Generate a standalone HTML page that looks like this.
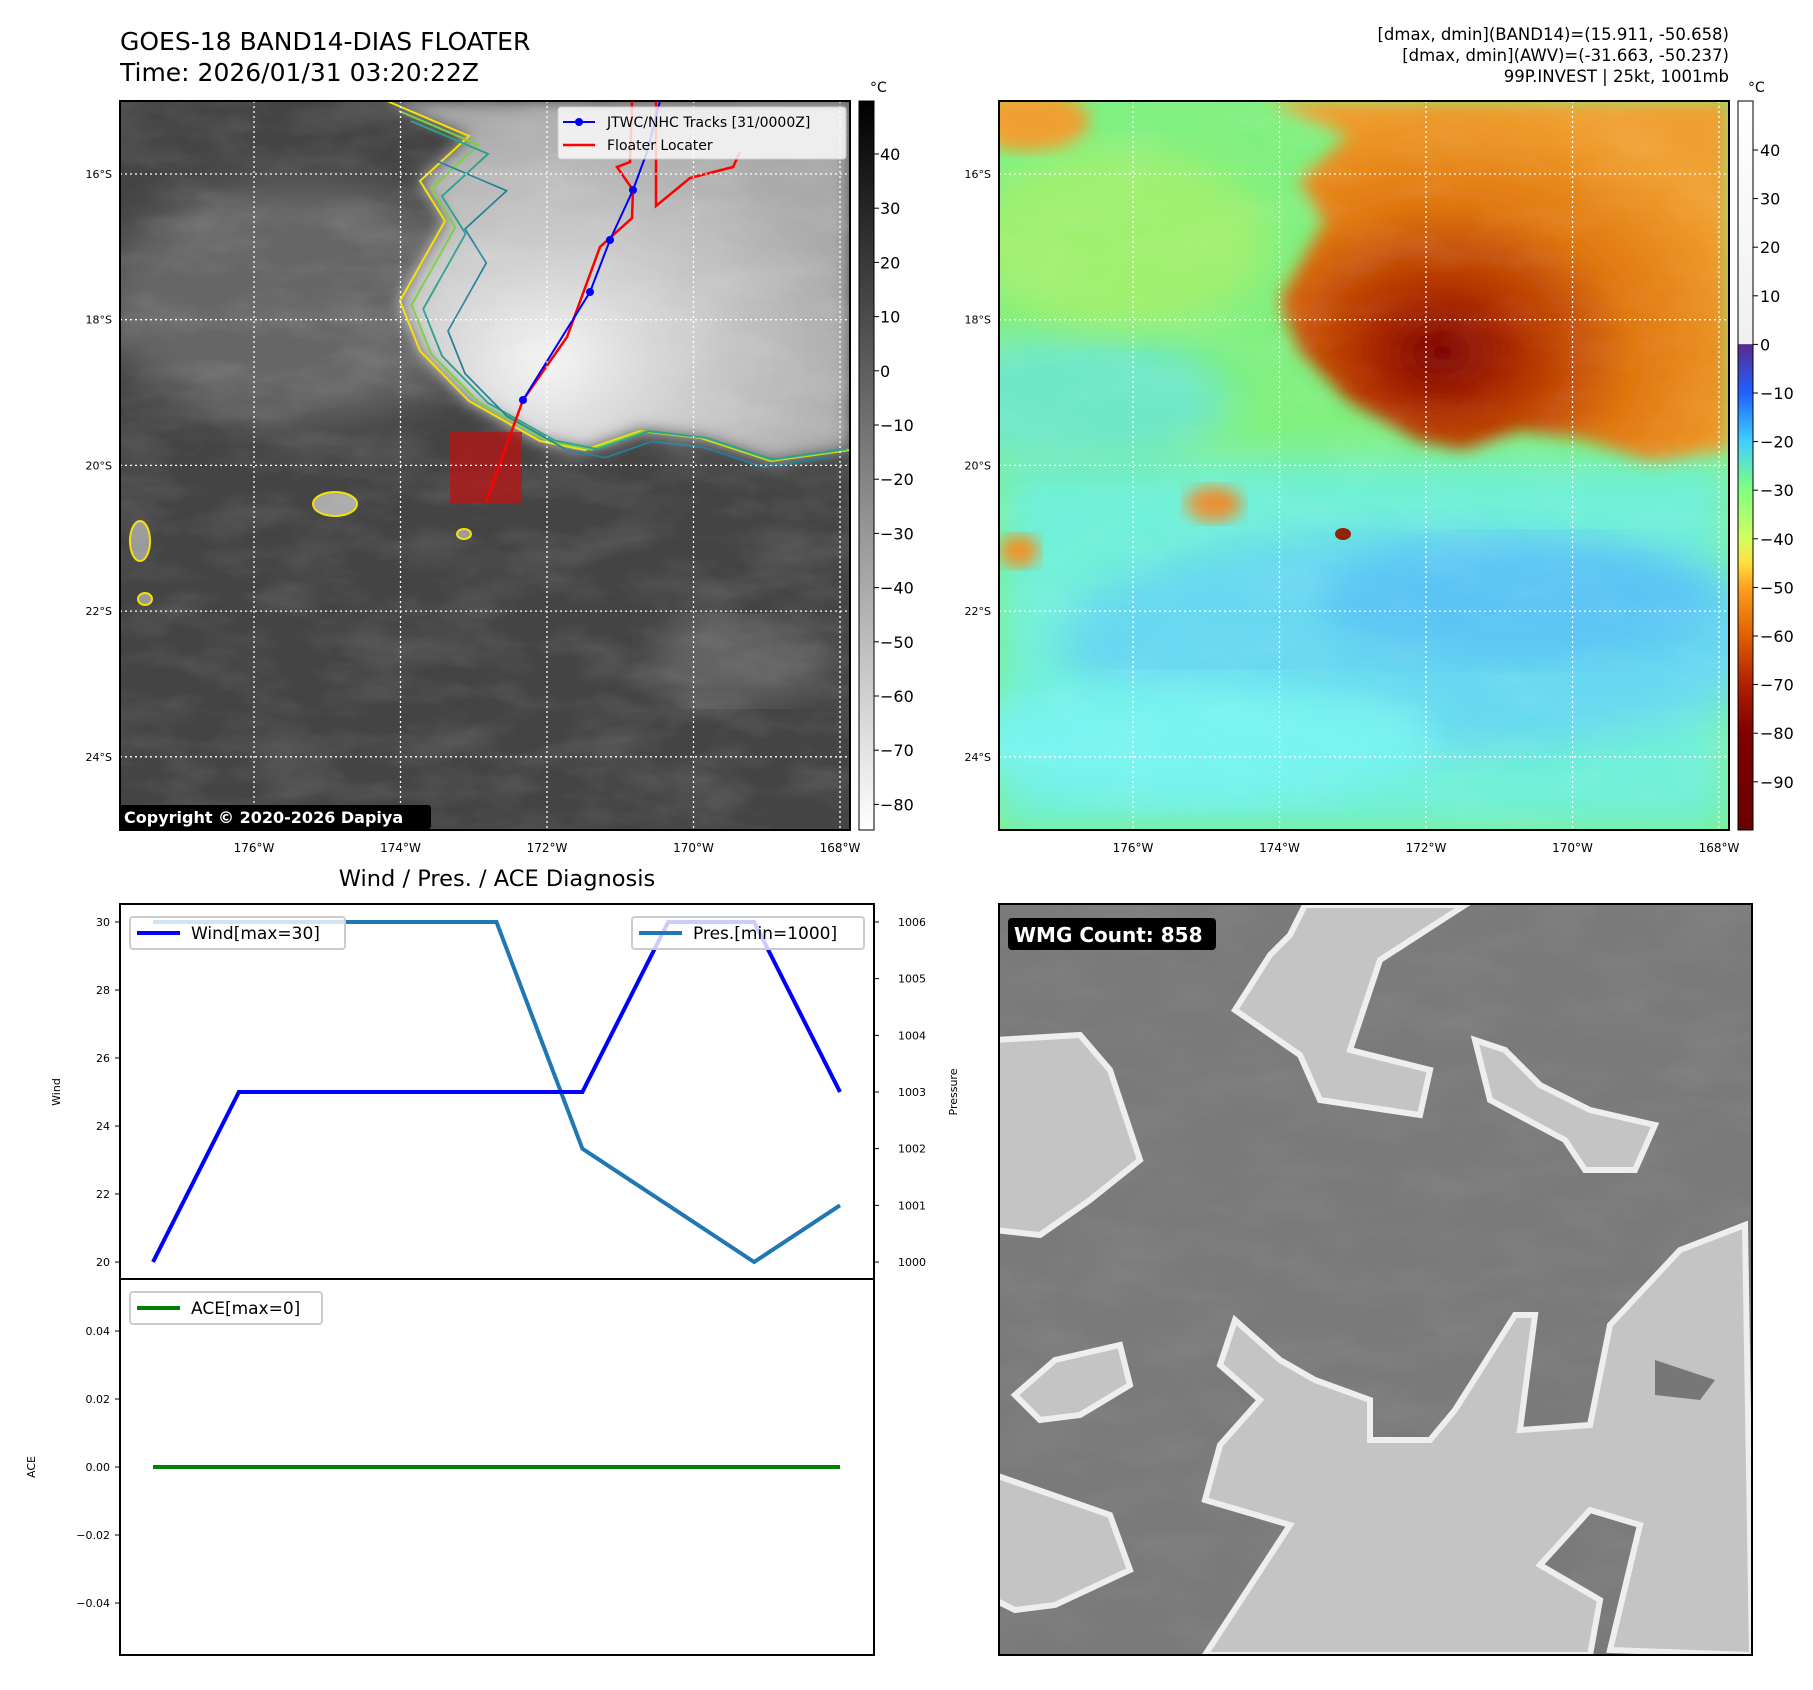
<!DOCTYPE html>
<html><head><meta charset="utf-8">
<style>
html,body{margin:0;padding:0;background:#fff;}
svg{display:block;font-family:"DejaVu Sans","Liberation Sans",sans-serif;}
</style></head>
<body>
<svg id="fig" width="1813" height="1690" viewBox="0 0 1813 1690" xmlns="http://www.w3.org/2000/svg">
<defs>
  <filter id="noise" x="0" y="0" width="100%" height="100%">
    <feTurbulence type="fractalNoise" baseFrequency="0.012 0.03" numOctaves="4" seed="3" result="n"/>
    <feColorMatrix type="matrix" values="0 0 0 0 1  0 0 0 0 1  0 0 0 0 1  0.9 0 0 0 -0.35" />
  </filter>
  <filter id="blur8"><feGaussianBlur stdDeviation="8"/></filter>
  <filter id="blur20"><feGaussianBlur stdDeviation="20"/></filter>
  <linearGradient id="cbGray" x1="0" y1="0" x2="0" y2="1">
    <stop offset="0" stop-color="#000"/><stop offset="1" stop-color="#fff"/>
  </linearGradient>
  <linearGradient id="cbColor" x1="0" y1="0" x2="0" y2="1">
    <stop offset="0" stop-color="#ffffff"/>
    <stop offset="0.333" stop-color="#f0f0f0"/>
    <stop offset="0.334" stop-color="#5a2a90"/>
    <stop offset="0.40" stop-color="#2060ff"/>
    <stop offset="0.467" stop-color="#40d0ff"/>
    <stop offset="0.533" stop-color="#80ff80"/>
    <stop offset="0.60" stop-color="#d0ff60"/>
    <stop offset="0.633" stop-color="#ffe040"/>
    <stop offset="0.667" stop-color="#ffa020"/>
    <stop offset="0.733" stop-color="#e06000"/>
    <stop offset="0.80" stop-color="#b02000"/>
    <stop offset="0.867" stop-color="#800000"/>
    <stop offset="1" stop-color="#6a0000"/>
  </linearGradient>
  <radialGradient id="cloudGray" cx="0.35" cy="0.72" r="0.7">
    <stop offset="0" stop-color="#f4f4f4"/><stop offset="0.5" stop-color="#c8c8c8"/><stop offset="1" stop-color="#a8a8a8"/>
  </radialGradient>
  <radialGradient id="cloudColor" cx="0.38" cy="0.7" r="0.7">
    <stop offset="0" stop-color="#7a0000"/><stop offset="0.25" stop-color="#b03000"/><stop offset="0.6" stop-color="#e07810"/><stop offset="1" stop-color="#f0a030"/>
  </radialGradient>
  <path id="cloudShape" d="M267,0 L349,35 L300,80 L325,120 L280,200 L300,250 L349,300 L420,340 L465,349 L520,330 L581,337 L651,360 L730,349 L730,0 Z"/>
  <path id="cloudEdge" d="M267,0 L349,35 L300,80 L325,120 L280,200 L300,250 L349,300 L420,340 L465,349 L520,330 L581,337 L651,360 L730,349"/>
  <clipPath id="clipL"><rect x="120" y="101" width="730" height="729"/></clipPath>
  <clipPath id="clipR"><rect x="999" y="101" width="730" height="729"/></clipPath>
  <clipPath id="clipW"><rect x="999" y="904" width="753" height="751"/></clipPath>
</defs>

<!-- Titles -->
<text x="120" y="50" font-size="25">GOES-18 BAND14-DIAS FLOATER</text>
<text x="120" y="81" font-size="25">Time: 2026/01/31 03:20:22Z</text>
<text x="1729" y="40" font-size="16.5" text-anchor="end">[dmax, dmin](BAND14)=(15.911, -50.658)</text>
<text x="1729" y="61" font-size="16.5" text-anchor="end">[dmax, dmin](AWV)=(-31.663, -50.237)</text>
<text x="1729" y="82" font-size="16.5" text-anchor="end">99P.INVEST | 25kt, 1001mb</text>

<!-- LEFT MAP -->
<g clip-path="url(#clipL)">
  <rect x="120" y="101" width="730" height="729" fill="#444"/>
  <g transform="translate(120,101)">
    <ellipse cx="180" cy="200" rx="200" ry="120" fill="#666" filter="url(#blur20)"/>
    <ellipse cx="620" cy="560" rx="90" ry="40" fill="#666" filter="url(#blur20)"/>
    <use href="#cloudShape" fill="url(#cloudGray)" filter="url(#blur8)"/>
    <use href="#cloudEdge" fill="none" stroke="#f5e000" stroke-width="2"/>
    <use href="#cloudEdge" fill="none" stroke="#7ad040" stroke-width="2" transform="translate(20,10) scale(0.97)"/>
    <use href="#cloudEdge" fill="none" stroke="#2aa08a" stroke-width="2" transform="translate(40,20) scale(0.94)"/>
    <use href="#cloudEdge" fill="none" stroke="#1f7f9a" stroke-width="2" transform="translate(90,60) scale(0.85)"/>
    <ellipse cx="215" cy="403" rx="22" ry="12" fill="#aaa" stroke="#f5e000" stroke-width="2"/>
    <ellipse cx="20" cy="440" rx="10" ry="20" fill="#999" stroke="#f5e000" stroke-width="2"/>
    <ellipse cx="25" cy="498" rx="7" ry="6" fill="#999" stroke="#f5e000" stroke-width="2"/>
    <ellipse cx="344" cy="433" rx="7" ry="5" fill="#999" stroke="#f5e000" stroke-width="2"/>
  </g>
  <rect x="120" y="101" width="730" height="729" filter="url(#noise)" opacity="0.25"/>
  <rect x="450" y="432" width="72" height="71" fill="#c01010" opacity="0.7"/>
  <polyline points="486,502 523,400 567,337 600,247 632,218 633,190 617,167 630,162 632,101" fill="none" stroke="#f00" stroke-width="2.5"/>
  <polyline points="656,101 656,206 690,178 733,167 740,152" fill="none" stroke="#f00" stroke-width="2.5"/>
  <polyline points="523,400 590,292 610,240 633,190 647,152 660,101" fill="none" stroke="#00f" stroke-width="2"/>
  <g fill="#00f"><circle cx="523" cy="400" r="4"/><circle cx="590" cy="292" r="4"/><circle cx="610" cy="240" r="4"/><circle cx="633" cy="190" r="4"/></g>
  <g id="gridL" stroke="#fff" stroke-width="1.3" stroke-dasharray="2,3"></g>
  <rect x="120" y="805" width="311" height="24" rx="3" fill="#000"/>
  <text x="124" y="823" font-size="16" font-weight="bold" fill="#fff">Copyright © 2020-2026 Dapiya</text>
</g>
<rect x="120" y="101" width="730" height="729" fill="none" stroke="#000" stroke-width="2"/>
<g>
  <rect x="558" y="107" width="288" height="52" rx="3" fill="#fff" fill-opacity="0.8" stroke="#ccc"/>
  <line x1="563" y1="122" x2="595" y2="122" stroke="#00f" stroke-width="2"/><circle cx="579" cy="122" r="4" fill="#00f"/>
  <text x="607" y="127" font-size="14">JTWC/NHC Tracks [31/0000Z]</text>
  <line x1="563" y1="145" x2="595" y2="145" stroke="#f00" stroke-width="2.5"/>
  <text x="607" y="150" font-size="14">Floater Locater</text>
</g>
<!-- left colorbar -->
<rect x="859" y="101" width="15" height="729" fill="url(#cbGray)" stroke="#000"/>
<text x="870" y="92" font-size="14">°C</text>
<g id="cbTicksL" font-size="16"></g>

<!-- RIGHT MAP -->
<g clip-path="url(#clipR)">
  <rect x="999" y="101" width="730" height="729" fill="#80f080"/>
  <g transform="translate(999,101)">
    <rect x="0" y="360" width="730" height="370" fill="#70f0d8" filter="url(#blur20)"/>
    <ellipse cx="420" cy="540" rx="360" ry="110" fill="#68d8f0" filter="url(#blur20)"/>
    <ellipse cx="520" cy="500" rx="200" ry="60" fill="#5cc4f4" filter="url(#blur20)"/>
    <ellipse cx="200" cy="640" rx="240" ry="60" fill="#78f4f0" filter="url(#blur20)"/>
    <ellipse cx="80" cy="300" rx="150" ry="70" fill="#70e8c8" filter="url(#blur20)"/>
    <ellipse cx="120" cy="140" rx="150" ry="90" fill="#a0f070" filter="url(#blur20)"/>
    <ellipse cx="30" cy="20" rx="60" ry="30" fill="#f0a030" filter="url(#blur8)"/>
    <use href="#cloudShape" fill="url(#cloudColor)" filter="url(#blur8)"/>
    <ellipse cx="215" cy="403" rx="28" ry="18" fill="#e89030" filter="url(#blur8)"/>
    <ellipse cx="20" cy="450" rx="20" ry="16" fill="#f09020" filter="url(#blur8)"/>
    <ellipse cx="344" cy="433" rx="8" ry="6" fill="#902000"/>
  </g>
  <rect x="999" y="101" width="730" height="729" filter="url(#noise)" opacity="0.15"/>
  <g id="gridR" stroke="#fff" stroke-width="1.3" stroke-dasharray="2,3"></g>
</g>
<rect x="999" y="101" width="730" height="729" fill="none" stroke="#000" stroke-width="2"/>
<rect x="1738" y="101" width="15" height="729" fill="url(#cbColor)" stroke="#000"/>
<text x="1748" y="92" font-size="14">°C</text>
<g id="cbTicksR" font-size="16"></g>
<g id="mapLabels" font-size="12"></g>

<!-- DIAGNOSIS -->
<text x="497" y="886" font-size="22.5" text-anchor="middle">Wind / Pres. / ACE Diagnosis</text>
<g id="diag"></g>

<!-- WMG panel -->
<g clip-path="url(#clipW)">
  <rect x="999" y="904" width="753" height="751" fill="#7a7a7a"/>
  <rect x="999" y="904" width="753" height="751" filter="url(#noise)" opacity="0.12"/>
  <g fill="#c4c4c4" stroke="#eee" stroke-width="6" stroke-linejoin="miter">
    <polygon points="995,1040 1080,1035 1110,1070 1140,1160 1090,1200 1040,1235 995,1230"/>
    <polygon points="1305,905 1465,905 1380,960 1350,1050 1430,1070 1420,1115 1320,1100 1300,1055 1235,1010 1270,955 1290,935"/>
    <polygon points="1475,1040 1505,1050 1540,1085 1590,1110 1655,1125 1635,1170 1585,1170 1565,1140 1490,1100"/>
    <polygon points="1205,1655 1290,1525 1205,1500 1220,1445 1260,1400 1220,1365 1235,1320 1280,1360 1315,1380 1370,1400 1370,1440 1430,1440 1455,1410 1515,1315 1535,1315 1520,1430 1590,1425 1610,1325 1680,1250 1745,1225 1752,1655 1610,1650 1640,1525 1590,1510 1540,1565 1600,1600 1590,1655"/>
    <polygon points="995,1475 1110,1515 1130,1570 1055,1605 1015,1610 995,1600"/>
    <polygon points="1055,1360 1120,1345 1130,1385 1080,1415 1040,1420 1015,1395"/>
  </g>
  <polygon points="1655,1360 1715,1380 1700,1400 1655,1395" fill="#777"/>
  <rect x="1008" y="918" width="208" height="32" rx="4" fill="#000"/>
  <text x="1014" y="942" font-size="20" font-weight="bold" fill="#fff">WMG Count: 858</text>
</g>
<rect x="999" y="904" width="753" height="751" fill="none" stroke="#000" stroke-width="2"/>

<script>
const NS='http://www.w3.org/2000/svg';
function mk(tag,attrs,parent,txt){const e=document.createElementNS(NS,tag);for(const k in attrs)e.setAttribute(k,attrs[k]);if(txt!==undefined)e.textContent=txt;parent.appendChild(e);return e;}

// map grids
const lonTicks=[176,174,172,170,168];
const latTicks=[16,18,20,22,24];
function lonX(lon,off){return off+254+(176-lon)/2*146.5;}
function latY(lat){return 174+(lat-16)/2*145.7;}
const gl=document.getElementById('gridL'),gr=document.getElementById('gridR'),ml=document.getElementById('mapLabels');
[[gl,0],[gr,879]].forEach(([g,off])=>{
  lonTicks.forEach(l=>{const x=lonX(l,off);const ln=mk('line',{x1:x,y1:101,x2:x,y2:830},g);
    
    
    const t=mk('text',{x:x,y:852,'text-anchor':'middle'},ml,l+'°W');
    
    });
  latTicks.forEach(l=>{const y=latY(l);const ln=mk('line',{x1:120+off,y1:y,x2:850+off,y2:y},g);
    
    
    const t=mk('text',{x:112+off,y:y+4,'text-anchor':'end','font-size':11},ml,l+'°S');
    
    });
});
// colorbars
const cbLTicks=[40,30,20,10,0,-10,-20,-30,-40,-50,-60,-70,-80];
const cbRTicks=[40,30,20,10,0,-10,-20,-30,-40,-50,-60,-70,-80,-90];
const cl=document.getElementById('cbTicksL'),cr=document.getElementById('cbTicksR');
cbLTicks.forEach(v=>{const y=154+(40-v)/10*54.2;mk('line',{x1:874,y1:y,x2:879,y2:y,stroke:'#000'},cl);
  const t=mk('text',{x:880,y:y+6},cl,(v<0?'\u2212'+(-v):v));
  
  });
cbRTicks.forEach(v=>{const y=150+(40-v)/10*48.6;mk('line',{x1:1753,y1:y,x2:1758,y2:y,stroke:'#000'},cr);
  const t=mk('text',{x:1760,y:y+6},cr,(v<0?'\u2212'+(-v):v));
  
  });

// Diagnosis chart data
const windValues=[20,25,25,25,25,25,30,30,25];
const presValues=[1006,1006,1006,1006,1006,1002,1001,1000,1001];
const aceValues=[0,0,0,0,0,0,0,0,0];
const windTicks=[20,22,24,26,28,30];
const presTicks=[1000,1001,1002,1003,1004,1005,1006];
const aceTicks=[-0.04,-0.02,0,0.02,0.04];

const d=document.getElementById('diag');
const AX={l:120,r:874,t:904,m:1279,b:1655};
const xS=i=>153+i*(840-153)/(windValues.length-1);
const wY=v=>922+(30-v)/10*(1262-922);
const pY=v=>922+(1006-v)/6*(1262-922);
const aY=v=>1467-v/0.04*(1467-1331);
mk('rect',{x:AX.l,y:AX.t,width:AX.r-AX.l,height:AX.b-AX.t,fill:'#fff',stroke:'#000','stroke-width':2},d);
mk('line',{x1:AX.l,y1:AX.m,x2:AX.r,y2:AX.m,stroke:'#000','stroke-width':2},d);
windTicks.forEach(v=>{const y=wY(v);mk('line',{x1:AX.l-5,y1:y,x2:AX.l,y2:y,stroke:'#000'},d);
  const t=mk('text',{x:AX.l-10,y:y+4,'text-anchor':'end','font-size':11},d,v);
  
  });
presTicks.forEach(v=>{const y=pY(v);mk('line',{x1:AX.r,y1:y,x2:AX.r+5,y2:y,stroke:'#000'},d);
  const t=mk('text',{x:AX.r+24,y:y+4,'font-size':11},d,v);
  
  });
aceTicks.forEach(v=>{const y=aY(v);mk('line',{x1:AX.l-5,y1:y,x2:AX.l,y2:y,stroke:'#000'},d);
  const t=mk('text',{x:AX.l-10,y:y+4,'text-anchor':'end','font-size':11},d,(v<0?'\u2212'+(-v).toFixed(2):v.toFixed(2)));
  
  });
let t1=mk('text',{x:0,y:0,'font-size':11,transform:'translate(60,1092) rotate(-90)','text-anchor':'middle'},d,'Wind');


let t2=mk('text',{x:0,y:0,'font-size':11,transform:'translate(957,1092) rotate(-90)','text-anchor':'middle'},d,'Pressure');


let t3=mk('text',{x:0,y:0,'font-size':11,transform:'translate(35,1467) rotate(-90)','text-anchor':'middle'},d,'ACE');



const pl=mk('polyline',{points:presValues.map((v,i)=>xS(i)+','+pY(v)).join(' '),fill:'none',stroke:'#1f77b4','stroke-width':4},d);


const wl=mk('polyline',{points:windValues.map((v,i)=>xS(i)+','+wY(v)).join(' '),fill:'none',stroke:'#0000ff','stroke-width':4},d);


const al=mk('polyline',{points:aceValues.map((v,i)=>xS(i)+','+aY(v)).join(' '),fill:'none',stroke:'#008000','stroke-width':4},d);



function legend(x,y,w,color,label,name){
  const g=mk('g',{},d);
  
  
  mk('rect',{x:x,y:y,width:w,height:32,rx:3,fill:'#fff','fill-opacity':0.8,stroke:'#ccc','stroke-width':2},g);
  mk('line',{x1:x+7,y1:y+16,x2:x+50,y2:y+16,stroke:color,'stroke-width':4},g);
  mk('text',{x:x+61,y:y+22,'font-size':17},g,label);
}
legend(130,917,215,'#0000ff','Wind[max=30]','wind-legend');
legend(632,917,232,'#1f77b4','Pres.[min=1000]','pressure-legend');
legend(130,1292,192,'#008000','ACE[max=0]','ace-legend');
</script>
</svg>
</body></html>
